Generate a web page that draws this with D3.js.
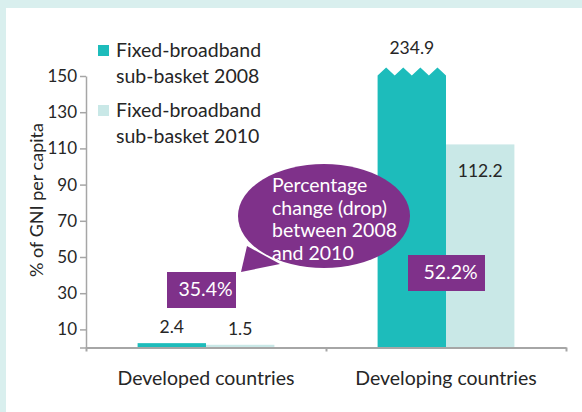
<!DOCTYPE html>
<html>
<head>
<meta charset="utf-8">
<script src="https://cdn.jsdelivr.net/npm/d3@7"></script>
<style>
  body { margin: 0; background: #fff; }
  svg { display: block; font-family: Lato, "Open Sans", sans-serif; }
</style>
</head>
<body>
<div id="chart"></div>
<script>
const categories = ["Developed countries", "Developing countries"];
const seriesKeys = ["2008", "2010"];
const legendLines = [["Fixed-broadband", "sub-basket 2008"], ["Fixed-broadband", "sub-basket 2010"]];
const values2008 = [2.4, 234.9];
const values2010 = [1.5, 112.2];
const dropLabels = ["35.4%", "52.2%"];
const bubbleLines = ["Percentage", "change (drop)", "between 2008", "and 2010"];
const yTicks = [0, 10, 30, 50, 70, 90, 110, 130, 150];
const yMax = 150;

const svgWidth = 582;
const svgHeight = 412;
const plotLeft = 86;
const plotRight = 566;
const plotTop = 76;
const plotBottom = 347.5;

const teal = "#1dbcbb";
const tealLight = "#c9e8e7";
const purple = "#7f318a";
const axisColor = "#a6a6a6";
const textColor = "#262626";

const svg = d3.select("#chart")
    .append("svg")
    .attr("width", svgWidth)
    .attr("height", svgHeight);

// frame
svg.append("rect").attr("width", svgWidth).attr("height", svgHeight).attr("fill", "#d9efee");
svg.append("rect").attr("x", 6).attr("y", 8).attr("width", svgWidth - 6).attr("height", svgHeight - 8).attr("fill", "#fff");

const dataset = categories.map((c, i) => ({
    category: c,
    values: [values2008[i], values2010[i]],
    drop: dropLabels[i]
}));

const x0 = d3.scaleBand()
    .domain(categories)
    .range([plotLeft, plotRight])
    .paddingInner(0.43)
    .paddingOuter(0.215);

const x1 = d3.scaleBand()
    .domain(seriesKeys)
    .range([0, x0.bandwidth()]);

const y = d3.scaleLinear()
    .domain([0, yMax])
    .range([plotBottom, plotTop]);

const colors = [teal, tealLight];

// bars
const groups = svg.selectAll(".group")
    .data(dataset)
    .enter()
    .append("g")
    .attr("class", "group")
    .attr("transform", d => `translate(${x0(d.category)},0)`);

groups.each(function(d) {
    const g = d3.select(this);
    d.values.forEach((v, j) => {
        const bx = x1(seriesKeys[j]);
        const w = x1.bandwidth();
        if (v > yMax) {
            // broken bar with zigzag top
            const top = y(yMax) - 0.5;
            const teeth = 4;
            const tw = w / teeth;
            let p = `M${bx},${plotBottom}L${bx},${top}`;
            for (let k = 0; k < teeth; k++) {
                p += `L${bx + tw * (k + 0.5)},${top - 8}L${bx + tw * (k + 1)},${top}`;
            }
            p += `L${bx + w},${plotBottom}Z`;
            g.append("path").attr("d", p).attr("fill", colors[j]);
        } else {
            g.append("rect")
                .attr("x", bx)
                .attr("y", y(v))
                .attr("width", w)
                .attr("height", plotBottom - y(v))
                .attr("fill", colors[j]);
        }

        let ly;
        if (v > yMax) ly = y(yMax) - 22;
        else if (v > 100) ly = y(v) + 33;
        else ly = y(v) - 10;
        g.append("text")
            .attr("x", bx + w / 2)
            .attr("y", ly)
            .attr("text-anchor", "middle")
            .attr("fill", textColor)
            .style("font-size", "17.5px")
            .text(v);
    });
});

// y axis
const yAxis = d3.axisLeft(y)
    .tickValues(yTicks)
    .tickFormat(d => d === 0 ? "" : d)
    .tickSize(6)
    .tickSizeOuter(0)
    .tickPadding(3);

const yG = svg.append("g")
    .attr("transform", `translate(${plotLeft},0)`)
    .call(yAxis);
yG.selectAll("path, line").attr("stroke", axisColor).attr("stroke-width", 1.5);
yG.selectAll("text").attr("fill", textColor).style("font-size", "17px").style("font-family", "Lato, sans-serif");

// x axis (category boundaries)
const xEdges = d3.scaleLinear().domain([0, categories.length]).range([plotLeft, plotRight]);
const xG = svg.append("g")
    .attr("transform", `translate(0,${plotBottom})`)
    .call(d3.axisBottom(xEdges).tickValues(d3.range(categories.length + 1)).tickFormat("").tickSize(4).tickSizeOuter(0));
xG.selectAll("path, line").attr("stroke", axisColor).attr("stroke-width", 2);

svg.selectAll(".cat-label")
    .data(categories)
    .enter()
    .append("text")
    .attr("class", "cat-label")
    .attr("x", d => x0(d) + x0.bandwidth() / 2)
    .attr("y", 385)
    .attr("text-anchor", "middle")
    .attr("fill", textColor)
    .style("font-size", "19.5px")
    .text(d => d);

svg.append("text")
    .attr("transform", "rotate(-90)")
    .attr("x", -200)
    .attr("y", 43)
    .attr("text-anchor", "middle")
    .attr("fill", textColor)
    .style("font-size", "18px")
    .text("% of GNI per capita");

// legend
const legend = svg.selectAll(".legend")
    .data(legendLines)
    .enter()
    .append("g")
    .attr("class", "legend")
    .attr("transform", (d, i) => `translate(98,${45 + i * 60})`);

legend.append("rect")
    .attr("width", 11)
    .attr("height", 11)
    .attr("fill", (d, i) => colors[i]);

legend.append("text")
    .attr("x", 18)
    .attr("y", 12)
    .attr("fill", textColor)
    .style("font-size", "19.5px")
    .selectAll("tspan")
    .data(d => d)
    .enter()
    .append("tspan")
    .attr("x", 18)
    .attr("dy", (d, i) => i === 0 ? 0 : 26)
    .text(d => d);

// drop boxes
const boxOffsets = [[-39, 272, 69], [-38, 255, 77]];
dataset.forEach((d, i) => {
    const cx = x0(d.category) + x0.bandwidth() / 2;
    const [dx, by, bw] = boxOffsets[i];
    svg.append("rect")
        .attr("x", cx + dx)
        .attr("y", by)
        .attr("width", bw)
        .attr("height", 36)
        .attr("fill", purple);
    svg.append("text")
        .attr("x", cx + dx + bw / 2 + 4)
        .attr("y", by + 24)
        .attr("text-anchor", "middle")
        .attr("fill", "#fff")
        .style("font-size", "19.5px")
        .text(d.drop);
});

// speech bubble
const bubble = svg.append("g");
bubble.append("path")
    .attr("d", "M247,246L241,272L280,264Z")
    .attr("fill", purple);
bubble.append("ellipse")
    .attr("cx", 324)
    .attr("cy", 216)
    .attr("rx", 86)
    .attr("ry", 52)
    .attr("fill", purple);
bubble.append("text")
    .attr("fill", "#fff")
    .style("font-size", "19.5px")
    .selectAll("tspan")
    .data(bubbleLines)
    .enter()
    .append("tspan")
    .attr("x", 272)
    .attr("y", (d, i) => 192 + i * 22.7)
    .text(d => d);
</script>
</body>
</html>
